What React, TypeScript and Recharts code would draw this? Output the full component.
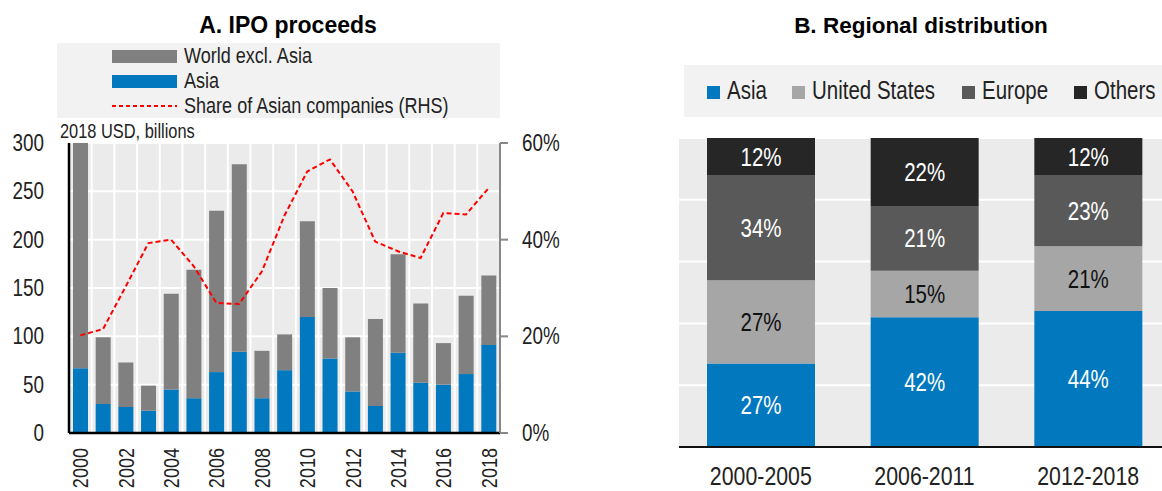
import React from 'react';
import { ComposedChart, BarChart, Bar, Line, XAxis, YAxis, CartesianGrid, LabelList } from 'recharts';

// Panel A data (2018 USD, billions; share in %)
const years = ['2000', '2001', '2002', '2003', '2004', '2005', '2006', '2007', '2008', '2009',
  '2010', '2011', '2012', '2013', '2014', '2015', '2016', '2017', '2018'];
const asiaProceeds = [67, 30, 27, 23, 45, 36, 63, 84, 36, 65, 120, 77, 43, 28, 83, 52, 50, 61, 91];
const worldExAsia = [265, 69, 46, 26, 99, 133, 167, 194, 49, 37, 99, 73, 56, 90, 102, 82, 43, 81, 72];
const asianShare = [20.2, 21.5, 30.3, 39.3, 40, 34.5, 26.9, 26.7, 33.4, 45, 54.1, 56.6, 50, 39.6, 37.6, 36.2, 45.5, 45.2, 50.7];
const leftTicks = [0, 50, 100, 150, 200, 250, 300];
const rightTicks = [0, 20, 40, 60];
const legendA = ['World excl. Asia', 'Asia', 'Share of Asian companies (RHS)'];

// Panel B data (% of total)
const periods = ['2000-2005', '2006-2011', '2012-2018'];
const regAsia = [27, 42, 44];
const regUS = [27, 15, 21];
const regEurope = [34, 21, 23];
const regOthers = [12, 22, 12];
const legendB = ['Asia', 'United States', 'Europe', 'Others'];

const BLUE = '#0278be';
const GREY = '#808080';
const US_GREY = '#a6a6a6';
const EU_GREY = '#595959';
const OTH = '#262626';
const PLOT_BG = '#ebebeb';
const FONT = "'Liberation Sans', Arial, sans-serif";

const dataA = years.map((year, i) => ({
  year,
  asia: asiaProceeds[i],
  world: worldExAsia[i],
  share: asianShare[i],
}));

const dataB = periods.map((period, i) => ({
  period,
  asia: regAsia[i],
  us: regUS[i],
  europe: regEurope[i],
  others: regOthers[i],
}));

// no narrow font installed, so squeeze Liberation Sans horizontally
const NText = ({ x, y, size, anchor = 'start', fill = '#222', rotate = 0, children }: any) => (
  <g transform={`translate(${x} ${y}) rotate(${rotate}) scale(0.82 1)`}>
    <text x={0} y={0} textAnchor={anchor} fontFamily={FONT} fontSize={size} fill={fill}>{children}</text>
  </g>
);

const YearTick = (props: any) => {
  const { x, y, payload } = props;
  return <NText x={x + 8} y={y} size={22} anchor="end" rotate={-90}>{payload.value}</NText>;
};

const LeftTick = (props: any) => {
  const { x, y, payload } = props;
  return <NText x={x} y={y + 8} size={23} anchor="end">{payload.value}</NText>;
};

const RightTick = (props: any) => {
  const { x, y, payload } = props;
  return <NText x={x} y={y + 8} size={23}>{payload.value}%</NText>;
};

const PeriodTick = (props: any) => {
  const { x, y, payload } = props;
  return <NText x={x} y={y} size={26} anchor="middle">{payload.value}</NText>;
};

const segLabel = (fill: string) => (props: any) => {
  const { x, y, width, height, value } = props;
  return <NText x={x + width / 2} y={y + height / 2 + 9} size={25} anchor="middle" fill={fill}>{value}%</NText>;
};

const bandLines = (n: number) => ({ offset }: any) => {
  const out: number[] = [];
  for (let i = 1; i < n; i++) out.push(offset.left + (i * offset.width) / n);
  return out;
};

export default function App() {
  const swatchA = [GREY, BLUE];
  const swatchB = [BLUE, US_GREY, EU_GREY, OTH];
  const legendBX = [707, 792, 962, 1074];
  return (
    <div style={{ position: 'fixed', left: 0, top: 0, width: 1162, height: 491, overflow: 'hidden', background: '#fff' }}>
      <svg width={1162} height={491} style={{ position: 'absolute', left: 0, top: 0 }}>
        <text x={288} y={33} textAnchor="middle" fontFamily={FONT} fontWeight="bold" fontSize={23} fill="#000">A. IPO proceeds</text>
        <text x={921} y={33} textAnchor="middle" fontFamily={FONT} fontWeight="bold" fontSize={22.5} fill="#000">B. Regional distribution</text>

        <rect x={57} y={43} width={443} height={75} fill="#f2f2f2" />
        {legendA.map((name, i) => (
          <g key={name}>
            {i < 2 ? (
              <rect x={112} y={50 + i * 25} width={65} height={13} fill={swatchA[i]} />
            ) : (
              <line x1={112} x2={177} y1={106} y2={106} stroke="#ff0000" strokeWidth={2} strokeDasharray="4 3" />
            )}
            <NText x={184} y={63 + i * 25} size={22}>{name}</NText>
          </g>
        ))}
        <NText x={60} y={138} size={20}>2018 USD, billions</NText>

        <rect x={684} y={65} width={478} height={52} fill="#f2f2f2" />
        {legendB.map((name, i) => (
          <g key={name}>
            <rect x={legendBX[i]} y={86} width={13} height={13} fill={swatchB[i]} />
            <NText x={legendBX[i] + 20} y={99} size={25}>{name}</NText>
          </g>
        ))}
      </svg>

      <div style={{ position: 'absolute', left: 0, top: 0 }}>
        <ComposedChart width={580} height={491} data={dataA} margin={{ top: 143, right: 0, bottom: 0, left: 0 }} barSize={15}>
          <CartesianGrid yAxisId="left" fill={PLOT_BG} fillOpacity={1} stroke="#fff" strokeWidth={2}
            verticalCoordinatesGenerator={bandLines(years.length)} />
          <XAxis dataKey="year" height={58} interval={1} tickLine={false} tickSize={0} tickMargin={15}
            axisLine={{ stroke: '#000', strokeWidth: 2.5 }} tick={<YearTick />} />
          <YAxis yAxisId="left" width={69} domain={[0, 300]} ticks={leftTicks} allowDataOverflow
            tickLine={false} tickSize={0} tickMargin={25} axisLine={{ stroke: '#000', strokeWidth: 2.5 }} tick={<LeftTick />} />
          <YAxis yAxisId="right" orientation="right" width={80} domain={[0, 60]} ticks={rightTicks}
            tickSize={8} tickMargin={14} tickLine={{ stroke: '#888', strokeWidth: 2 }}
            axisLine={{ stroke: '#888', strokeWidth: 2 }} tick={<RightTick />} />
          <Bar yAxisId="left" dataKey="asia" stackId="a" fill={BLUE} isAnimationActive={false} />
          <Bar yAxisId="left" dataKey="world" stackId="a" fill={GREY} isAnimationActive={false} />
          <Line yAxisId="right" dataKey="share" type="linear" stroke="#ff0000" strokeWidth={2}
            strokeDasharray="5 3" dot={false} isAnimationActive={false} />
        </ComposedChart>
      </div>

      <div style={{ position: 'absolute', left: 660, top: 0 }}>
        <BarChart width={520} height={491} data={dataB} margin={{ top: 138, right: 10, bottom: 0, left: 19 }} barSize={108}>
          <CartesianGrid vertical={false} fill={PLOT_BG} fillOpacity={1} stroke="#fff" strokeWidth={2} />
          <XAxis dataKey="period" height={44} tickLine={false} tickSize={0} tickMargin={38}
            axisLine={{ stroke: '#111', strokeWidth: 2 }} tick={<PeriodTick />} />
          <YAxis hide domain={[0, 100]} ticks={[0, 20, 40, 60, 80, 100]} />
          <Bar dataKey="asia" stackId="b" fill={BLUE} isAnimationActive={false}>
            <LabelList dataKey="asia" position="center" content={segLabel('#fff')} />
          </Bar>
          <Bar dataKey="us" stackId="b" fill={US_GREY} isAnimationActive={false}>
            <LabelList dataKey="us" position="center" content={segLabel('#111')} />
          </Bar>
          <Bar dataKey="europe" stackId="b" fill={EU_GREY} isAnimationActive={false}>
            <LabelList dataKey="europe" position="center" content={segLabel('#fff')} />
          </Bar>
          <Bar dataKey="others" stackId="b" fill={OTH} isAnimationActive={false}>
            <LabelList dataKey="others" position="center" content={segLabel('#fff')} />
          </Bar>
        </BarChart>
      </div>
    </div>
  );
}
